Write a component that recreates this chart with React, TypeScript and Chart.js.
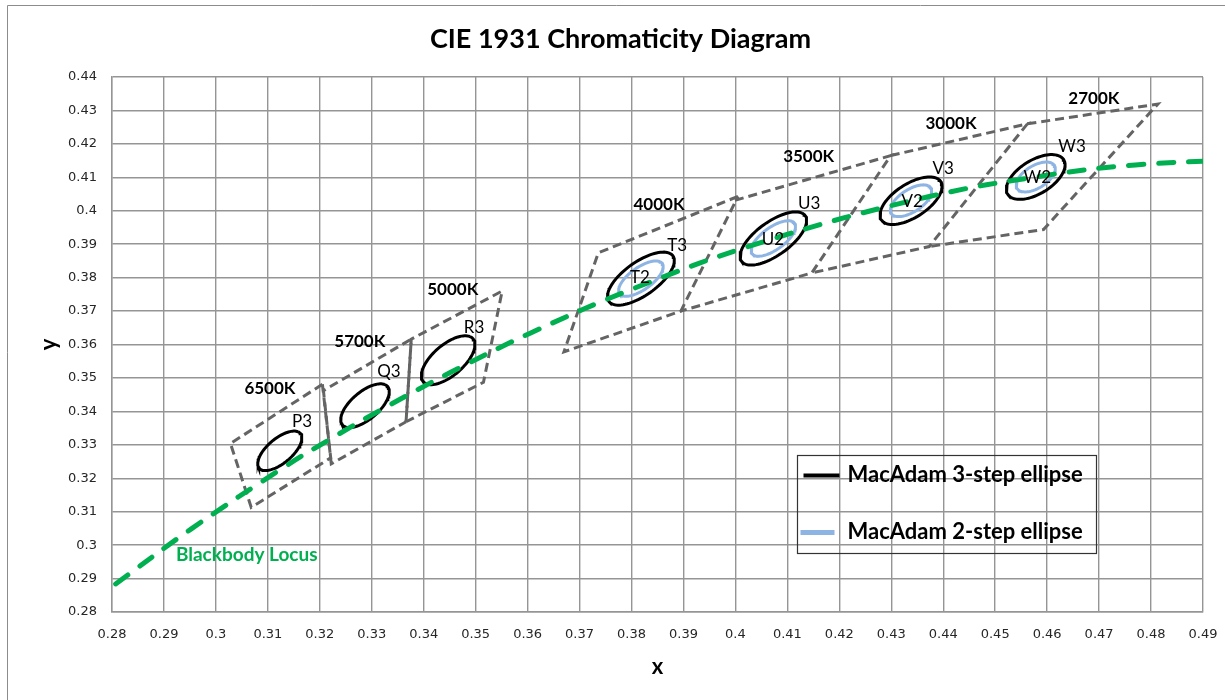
import React, { useEffect, useRef } from "react";
import { Chart, registerables } from "chart.js";

Chart.register(...registerables);

// ---- axis ticks ----
const xTicks = [0.28, 0.29, 0.3, 0.31, 0.32, 0.33, 0.34, 0.35, 0.36, 0.37, 0.38, 0.39, 0.4, 0.41, 0.42, 0.43, 0.44, 0.45, 0.46, 0.47, 0.48, 0.49];
const yTicks = [0.28, 0.29, 0.3, 0.31, 0.32, 0.33, 0.34, 0.35, 0.36, 0.37, 0.38, 0.39, 0.4, 0.41, 0.42, 0.43, 0.44];

// ---- blackbody locus ----
const locusX = [0.2807, 0.2952, 0.3135, 0.3221, 0.3324, 0.3451, 0.3608, 0.3805, 0.4053, 0.4369, 0.4599, 0.477, 0.4959];
const locusY = [0.2884, 0.3048, 0.3237, 0.3318, 0.341, 0.3516, 0.3636, 0.3768, 0.3907, 0.4041, 0.4106, 0.4137, 0.4152];

// ---- MacAdam ellipses (1-step parameters) ----
const cctNames = ["6500K", "5700K", "5000K", "4000K", "3500K", "3000K", "2700K"];
const ellipseCx = [0.3123, 0.3287, 0.3447, 0.3818, 0.4073, 0.4338, 0.4578];
const ellipseCy = [0.3282, 0.3417, 0.3553, 0.3797, 0.3917, 0.403, 0.4101];
const ellipseA = [0.00223, 0.00246, 0.00274, 0.00313, 0.00313, 0.00278, 0.00258];
const ellipseB = [0.00095, 0.00106, 0.00118, 0.00134, 0.00134, 0.00136, 0.00137];
const ellipseTheta = [58.6, 59.1, 59.6, 53.7, 54.0, 53.2, 53.7];
const threeStepLabels = ["P3", "Q3", "R3", "T3", "U3", "V3", "W3"];
const twoStepIndex = [3, 4, 5, 6];
const twoStepLabels = ["T2", "U2", "V2", "W2"];

// ---- quadrangle outlines (6500K..4000K closed; 3500K..2700K share their left edge) ----
const quadX = [
  [0.3205, 0.3028, 0.3068, 0.3221, 0.3205],
  [0.3366, 0.3376, 0.3207, 0.3222, 0.3366],
  [0.3366, 0.3376, 0.3551, 0.3515, 0.3366],
  [0.4005, 0.3736, 0.367, 0.3895, 0.4005],
  [0.3999, 0.4299, 0.4147, 0.3895],
  [0.4299, 0.4562, 0.4373, 0.4147],
  [0.4562, 0.4813, 0.4593, 0.4373],
];
const quadY = [
  [0.3481, 0.3304, 0.3113, 0.3261, 0.3481],
  [0.3369, 0.3616, 0.3462, 0.3243, 0.3369],
  [0.3369, 0.3616, 0.376, 0.3487, 0.3369],
  [0.4043, 0.3874, 0.3578, 0.37, 0.4043],
  [0.4031, 0.4165, 0.3814, 0.37],
  [0.4165, 0.426, 0.3893, 0.3814],
  [0.426, 0.4319, 0.3944, 0.3893],
];

// ---- text annotations (data coordinates) ----
const cctLabelX = [0.3104, 0.3277, 0.3456, 0.3853, 0.4141, 0.4415, 0.469];
const cctLabelY = [0.3467, 0.361, 0.3763, 0.402, 0.4162, 0.4262, 0.4337];
const threeLabelX = [0.3166, 0.3333, 0.3497, 0.3888, 0.4142, 0.44, 0.4648];
const threeLabelY = [0.3371, 0.3518, 0.3652, 0.3897, 0.4023, 0.4125, 0.4191];
const twoLabelX = [0.3816, 0.4072, 0.434, 0.4581];
const twoLabelY = [0.3799, 0.3915, 0.4029, 0.4098];
const locusLabel = "Blackbody Locus";
const locusLabelX = 0.2923;
const locusLabelY = 0.297;

const titleText = "CIE 1931 Chromaticity Diagram";
const legend3 = "MacAdam 3-step ellipse";
const legend2 = "MacAdam 2-step ellipse";

const BLACK = "#000000";
const BLUE = "#8EB4E3";
const GREEN = "#00B050";
const QUAD = "#646464";
const GRID = "#959595";

function ellipsePoints(i: number, steps: number) {
  const pts: { x: number; y: number }[] = [];
  const th = (ellipseTheta[i] * Math.PI) / 180;
  const a = ellipseA[i] * steps;
  const b = ellipseB[i] * steps;
  const n = 90;
  for (let k = 0; k <= n; k++) {
    const t = (k / n) * 2 * Math.PI;
    pts.push({
      x: ellipseCx[i] + a * Math.cos(th) * Math.cos(t) - b * Math.sin(th) * Math.sin(t),
      y: ellipseCy[i] + a * Math.sin(th) * Math.cos(t) + b * Math.cos(th) * Math.sin(t),
    });
  }
  return pts;
}

const fmt = (v: number) => String(Math.round(v * 100) / 100);

export default function App() {
  const ref = useRef<HTMLCanvasElement | null>(null);

  useEffect(() => {
    if (!ref.current) return;
    const datasets: any[] = [];
    datasets.push({
      label: "Blackbody Locus",
      data: locusX.map((x, i) => ({ x, y: locusY[i] })),
      showLine: true,
      borderColor: GREEN,
      borderWidth: 5,
      borderDash: [15, 15],
      borderCapStyle: "round",
      pointRadius: 0,
      tension: 0.4,
      order: 0,
      legendHidden: true,
    });
    cctNames.forEach((_, i) => {
      datasets.push({
        label: legend3,
        data: ellipsePoints(i, 3),
        showLine: true,
        borderColor: BLACK,
        borderWidth: 3,
        pointRadius: 0,
        tension: 0,
        order: 1,
      });
    });
    twoStepIndex.forEach((i) => {
      datasets.push({
        label: legend2,
        data: ellipsePoints(i, 2),
        showLine: true,
        borderColor: BLUE,
        borderWidth: 3,
        pointRadius: 0,
        tension: 0,
        order: 1,
      });
    });
    quadX.forEach((qx, qi) => {
      datasets.push({
        label: cctNames[qi] + " quadrangle",
        data: qx.map((x, k) => ({ x, y: quadY[qi][k] })),
        showLine: true,
        borderColor: QUAD,
        borderWidth: 3,
        borderDash: [9, 5],
        borderDashOffset: qi === 2 ? 7 : 0,
        pointRadius: 0,
        tension: 0,
        order: 3,
        legendHidden: true,
      });
    });

    const toPx = (chart: any, x: number, y: number) => [
      chart.scales.x.getPixelForValue(x),
      chart.scales.y.getPixelForValue(y),
    ];

    const framePlugin = {
      id: "frame",
      beforeDraw(chart: any) {
        const ctx = chart.ctx;
        ctx.save();
        ctx.fillStyle = "#ffffff";
        ctx.fillRect(0, 0, chart.width, chart.height);
        ctx.strokeStyle = "#8c8c8c";
        ctx.lineWidth = 1;
        ctx.beginPath();
        ctx.moveTo(7.5, chart.height);
        ctx.lineTo(7.5, 5.5);
        ctx.lineTo(chart.width, 5.5);
        ctx.stroke();
        ctx.fillStyle = "#000000";
        ctx.font = "bold 27px Lato";
        ctx.textAlign = "center";
        ctx.textBaseline = "middle";
        ctx.fillText(titleText, 620.5, 39);
        ctx.restore();
      },
    };

    const annotationPlugin = {
      id: "annotations",
      afterDatasetsDraw(chart: any) {
        const ctx = chart.ctx;
        ctx.save();
        ctx.textAlign = "center";
        ctx.textBaseline = "middle";
        ctx.fillStyle = "#000000";
        ctx.font = "bold 17px Lato";
        cctNames.forEach((name, i) => {
          const [px, py] = toPx(chart, cctLabelX[i], cctLabelY[i]);
          ctx.fillText(name, px, py);
        });
        ctx.font = "17px Lato";
        threeStepLabels.forEach((name, i) => {
          const [px, py] = toPx(chart, threeLabelX[i], threeLabelY[i]);
          ctx.fillText(name, px, py);
        });
        twoStepLabels.forEach((name, i) => {
          const [px, py] = toPx(chart, twoLabelX[i], twoLabelY[i]);
          ctx.fillText(name, px, py);
        });
        ctx.fillStyle = GREEN;
        ctx.font = "bold 19px Lato";
        ctx.textAlign = "left";
        const [lx, ly] = toPx(chart, locusLabelX, locusLabelY);
        ctx.fillText(locusLabel, lx, ly);

        // legend box
        const ca = chart.chartArea;
        const left = Math.round(ca.left + 685) + 0.5;
        const top = Math.round(ca.top + 378) + 0.5;
        const w = 299;
        const h = 98;
        ctx.strokeStyle = "#333333";
        ctx.lineWidth = 1.2;
        ctx.strokeRect(left, top, w, h);
        const seen: string[] = [];
        const items: { text: string; color: string }[] = [];
        chart.data.datasets.forEach((ds: any) => {
          if (ds.legendHidden || seen.indexOf(ds.label) >= 0) return;
          seen.push(ds.label);
          items.push({ text: ds.label, color: ds.borderColor });
        });
        const rowY = [top + 20, top + 77];
        items.forEach((it, k) => {
          const y = rowY[k];
          ctx.strokeStyle = it.color;
          ctx.lineWidth = k === 0 ? 4 : 5;
          ctx.beginPath();
          ctx.moveTo(left + (k === 0 ? 6 : 3), y);
          ctx.lineTo(left + (k === 0 ? 42 : 37), y);
          ctx.stroke();
          ctx.fillStyle = "#000000";
          ctx.font = "bold 22px Lato";
          ctx.textAlign = "left";
          ctx.textBaseline = "middle";
          ctx.fillText(it.text, left + 50, y - 1);
        });
        ctx.restore();
      },
    };

    const tickFont = { family: "DejaVu Sans", size: 13 };

    const chart = new Chart(ref.current, {
      type: "scatter",
      data: { datasets },
      options: {
        animation: false,
        responsive: false,
        layout: { padding: { left: 0, right: 22, top: 77, bottom: 0 } },
        plugins: {
          legend: { display: false },
          title: { display: false },
          tooltip: { enabled: false },
        },
        scales: {
          x: {
            type: "linear",
            min: 0.28,
            max: 0.49,
            afterBuildTicks: (scale: any) => {
              scale.ticks = xTicks.map((v) => ({ value: v }));
            },
            afterFit: (scale: any) => {
              scale.height = 88;
              scale.paddingLeft = 0;
              scale.paddingRight = 0;
            },
            ticks: {
              callback: (v: any) => fmt(Number(v)),
              font: tickFont,
              color: "#262626",
              padding: 15,
              maxRotation: 0,
              autoSkip: false,
            },
            grid: { color: GRID, lineWidth: 1.4, drawTicks: false },
            border: { color: GRID, width: 1.4 },
            title: {
              display: true,
              text: "x",
              font: { family: "Lato", size: 22, weight: "bold" },
              color: "#000000",
              padding: { top: 0, bottom: 20 },
            },
          },
          y: {
            type: "linear",
            min: 0.28,
            max: 0.44,
            afterBuildTicks: (scale: any) => {
              scale.ticks = yTicks.map((v) => ({ value: v }));
            },
            afterFit: (scale: any) => {
              scale.width = 112;
              scale.paddingTop = 0;
              scale.paddingBottom = 0;
            },
            ticks: {
              callback: (v: any) => fmt(Number(v)),
              font: tickFont,
              color: "#262626",
              padding: 15,
              autoSkip: false,
            },
            grid: { color: GRID, lineWidth: 1.4, drawTicks: false },
            border: { color: GRID, width: 1.4 },
            title: {
              display: true,
              text: "y",
              font: { family: "Lato", size: 22, weight: "bold" },
              color: "#000000",
              padding: { top: 36, bottom: 0 },
            },
          },
        },
      } as any,
      plugins: [framePlugin, annotationPlugin],
    });
    return () => chart.destroy();
  }, []);

  return (
    <div style={{ position: "fixed", left: 0, top: 0, width: 1225, height: 700 }}>
      <canvas ref={ref} width={1225} height={700} />
    </div>
  );
}
